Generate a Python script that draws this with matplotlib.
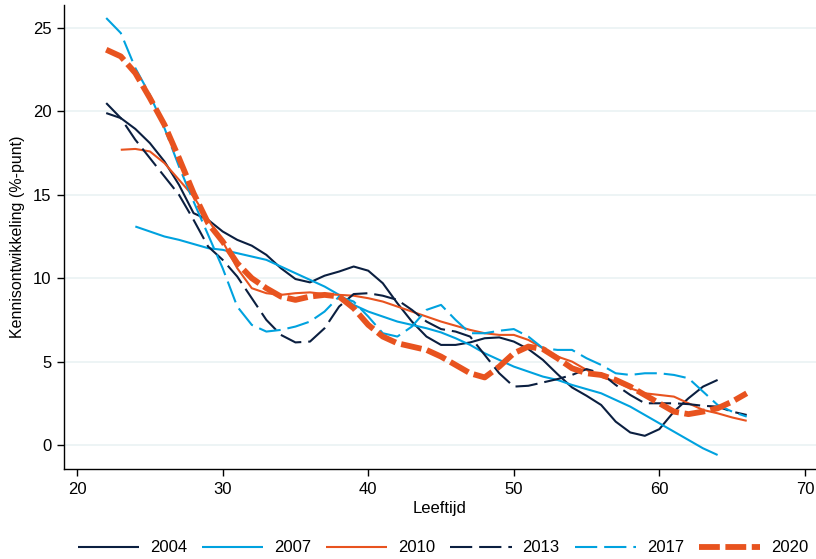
import matplotlib
matplotlib.use("Agg")
import matplotlib.pyplot as plt
import numpy as np

plt.rcParams['font.family'] = ['Liberation Sans', 'DejaVu Sans']
plt.rcParams['lines.scale_dashes'] = False

ages_04 = list(range(22, 65))
v_2004 = [19.9, 19.6, 18.95, 18.1, 17.0, 15.6, 13.9, 13.5, 12.8, 12.3, 11.95, 11.4,
          10.6, 9.95, 9.75, 10.15, 10.4, 10.7, 10.45, 9.7, 8.5, 7.4, 6.5, 6.0, 6.0,
          6.15, 6.4, 6.45, 6.2, 5.75, 5.1, 4.25, 3.45, 2.95, 2.4, 1.4, 0.75, 0.55,
          0.95, 2.0, 2.8, 3.5, 3.9]

ages_07 = list(range(24, 65))
v_2007 = [13.1, 12.8, 12.5, 12.3, 12.05, 11.8, 11.7, 11.5, 11.3, 11.1, 10.7, 10.3,
          9.9, 9.5, 9.0, 8.4, 8.0, 7.7, 7.4, 7.2, 7.0, 6.75, 6.4, 6.0, 5.5, 5.1, 4.7,
          4.4, 4.1, 3.9, 3.6, 3.35, 3.1, 2.7, 2.3, 1.8, 1.3, 0.8, 0.3, -0.2, -0.6]

ages_10 = list(range(23, 67))
v_2010 = [17.7, 17.75, 17.6, 16.9, 15.9, 14.9, 13.5, 12.2, 10.6, 9.4, 9.1, 9.0, 9.1,
          9.15, 9.05, 9.0, 8.95, 8.8, 8.6, 8.3, 8.0, 7.7, 7.4, 7.15, 6.9, 6.7, 6.6,
          6.6, 6.3, 5.8, 5.3, 5.0, 4.5, 4.1, 3.8, 3.4, 3.1, 3.0, 2.9, 2.5, 2.1, 1.9,
          1.65, 1.45]

ages_13 = list(range(22, 67))
v_2013 = [20.5, 19.6, 18.3, 17.2, 16.1, 15.0, 13.5, 11.9, 11.1, 10.1, 8.8, 7.5, 6.6,
          6.15, 6.2, 7.0, 8.3, 9.05, 9.1, 8.95, 8.7, 8.1, 7.4, 6.95, 6.8, 6.5, 5.4,
          4.3, 3.5, 3.55, 3.75, 3.95, 4.2, 4.55, 4.3, 3.6, 3.0, 2.5, 2.5, 2.5, 2.45,
          2.35, 2.3, 2.0, 1.8]

ages_17 = list(range(22, 67))
v_2017 = [25.6, 24.7, 22.6, 21.0, 19.0, 16.7, 14.6, 12.6, 10.6, 8.3, 7.2, 6.8, 6.9,
          7.1, 7.4, 8.0, 8.9, 8.6, 7.7, 6.7, 6.5, 7.1, 8.1, 8.4, 7.5, 6.7, 6.7, 6.85,
          6.95, 6.5, 5.8, 5.7, 5.7, 5.2, 4.8, 4.3, 4.2, 4.3, 4.3, 4.2, 4.0, 3.2, 2.4,
          2.0, 1.7]

ages_20 = list(range(22, 67))
v_2020 = [23.7, 23.3, 22.3, 20.8, 19.2, 17.2, 15.1, 13.3, 12.2, 10.9, 10.0, 9.4, 8.9,
          8.7, 8.9, 9.0, 8.9, 8.2, 7.2, 6.5, 6.1, 5.9, 5.7, 5.3, 4.8, 4.3, 4.05, 4.7,
          5.5, 5.9, 5.75, 5.2, 4.6, 4.3, 4.2, 3.9, 3.5, 3.0, 2.5, 2.0, 1.85, 2.0, 2.2,
          2.6, 3.1]

years = ["2004", "2007", "2010", "2013", "2017", "2020"]
x_ticks = [20, 30, 40, 50, 60, 70]
y_ticks = [0, 5, 10, 15, 20, 25]

navy = "#0b1f40"
blue = "#00a2df"
orange = "#e8531f"

fig = plt.figure(figsize=(8.16, 5.59), dpi=100)
ax = fig.add_axes([64/816, 1-469/559, 1-64/816, (469-5)/559])

series = [
    (ages_04, v_2004, dict(color=navy, lw=1.5, ls='-')),
    (ages_07, v_2007, dict(color=blue, lw=1.5, ls='-')),
    (ages_10, v_2010, dict(color=orange, lw=1.5, ls='-')),
    (ages_13, v_2013, dict(color=navy, lw=1.5, ls=(0, (16, 5)))),
    (ages_17, v_2017, dict(color=blue, lw=1.5, ls=(0, (16, 5)))),
    (ages_20, v_2020, dict(color=orange, lw=4.2, ls=(0, (15, 4)))),
]
for (xs, ys, st), lab in zip(series, years):
    ax.plot(xs, ys, label=lab, solid_capstyle='butt', dash_capstyle='butt', **st)

ax.set_xlim(19.1, 70.76)
ax.set_ylim(-1.44, 26.38)
ax.set_xticks(x_ticks)
ax.set_yticks(y_ticks)
ax.yaxis.grid(True, color="#eaf2f3", lw=1.2)
ax.set_axisbelow(True)
for s in ['top', 'right']:
    ax.spines[s].set_visible(False)
for s in ['left', 'bottom']:
    ax.spines[s].set_linewidth(1.0)
ax.tick_params(axis='both', direction='out', length=5, width=1.0, labelsize=12, pad=4)
ax.set_xlabel("Leeftijd", fontsize=12, labelpad=3)
ax.set_ylabel("Kennisontwikkeling (%-punt)", fontsize=11.5, labelpad=6)

fig.legend(loc='center', bbox_to_anchor=(443/816, 1-548/559), ncol=6, frameon=False,
           fontsize=12, handlelength=3.67, handletextpad=0.66, columnspacing=0.9)

fig.savefig("out.png", dpi=100)
